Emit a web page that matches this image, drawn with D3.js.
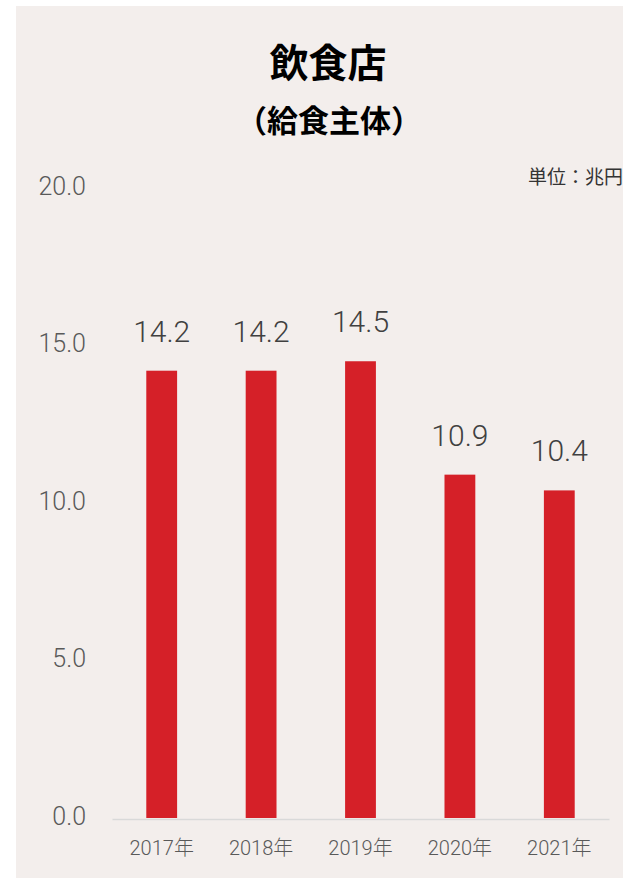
<!DOCTYPE html>
<html><head><meta charset="utf-8">
<script src="https://cdn.jsdelivr.net/npm/d3@7"></script>
<style>
html,body{margin:0;padding:0;background:#fff;}
svg{display:block;}
</style></head>
<body>
<svg id="chart" width="623" height="878"></svg>
<script>
const categories = ["2017年","2018年","2019年","2020年","2021年"];
const values = [14.2, 14.2, 14.5, 10.9, 10.4];
const yTicks = [0, 5, 10, 15, 20];
const titleText = "飲食店";
const subtitleText = "（給食主体）";
const unitText = "単位：兆円";

const svg = d3.select("#chart");
const numFont = "Roboto, 'Noto Sans CJK JP', sans-serif";
const cjkFont = "'Noto Sans CJK JP', sans-serif";

svg.append("rect").attr("x",16).attr("y",6).attr("width",607).attr("height",872).attr("fill","#f3eeec");

const x = d3.scaleBand().domain(categories).range([112,609]).paddingInner(0.69).paddingOuter(0.345);
const y = d3.scaleLinear().domain([0,20]).range([818,188]);

svg.append("text").attr("x",328).attr("y",77).attr("text-anchor","middle")
  .attr("font-family",cjkFont).attr("font-weight",700).attr("font-size",39).attr("fill","#000").text(titleText);
svg.append("text").attr("x",329).attr("y",132).attr("text-anchor","middle")
  .attr("font-family",cjkFont).attr("font-weight",700).attr("font-size",31).attr("fill","#000").text(subtitleText);
svg.append("text").attr("x",623).attr("y",184).attr("text-anchor","end")
  .attr("font-family",cjkFont).attr("font-size",19).attr("fill","#333").text(unitText);

// y axis
const yAxis = d3.axisLeft(y).tickValues(yTicks).tickFormat(d3.format(".1f")).tickSize(0).tickPadding(0);
const gy = svg.append("g").attr("transform","translate(86,0)").call(yAxis);
gy.select(".domain").remove();
gy.selectAll("text").attr("font-family",numFont).attr("font-weight",300).attr("font-size",25).attr("fill","#595959").attr("dy","0.25em");

// bars
svg.append("g").selectAll("rect").data(values).join("rect")
  .attr("x",(d,i)=>x(categories[i])).attr("width",x.bandwidth())
  .attr("y",d=>y(d)).attr("height",d=>y(0)-y(d)).attr("fill","#d52028");

// baseline / x axis
const xAxis = d3.axisBottom(x).tickSize(0).tickPadding(22);
const gx = svg.append("g").attr("transform","translate(0,819)").call(xAxis);
gx.select(".domain").attr("stroke","#d9d9d9").attr("stroke-width",1.5);
gx.selectAll("text").attr("font-family",numFont).attr("font-weight",300).attr("font-size",20).attr("fill","#595959");

// data labels
svg.append("g").selectAll("text").data(values).join("text")
  .attr("x",(d,i)=>x(categories[i])+x.bandwidth()/2).attr("y",d=>y(d)-29)
  .attr("text-anchor","middle").attr("font-family",numFont).attr("font-weight",300)
  .attr("font-size",30).attr("fill","#404040").text(d=>d3.format(".1f")(d));
</script>
</body></html>
